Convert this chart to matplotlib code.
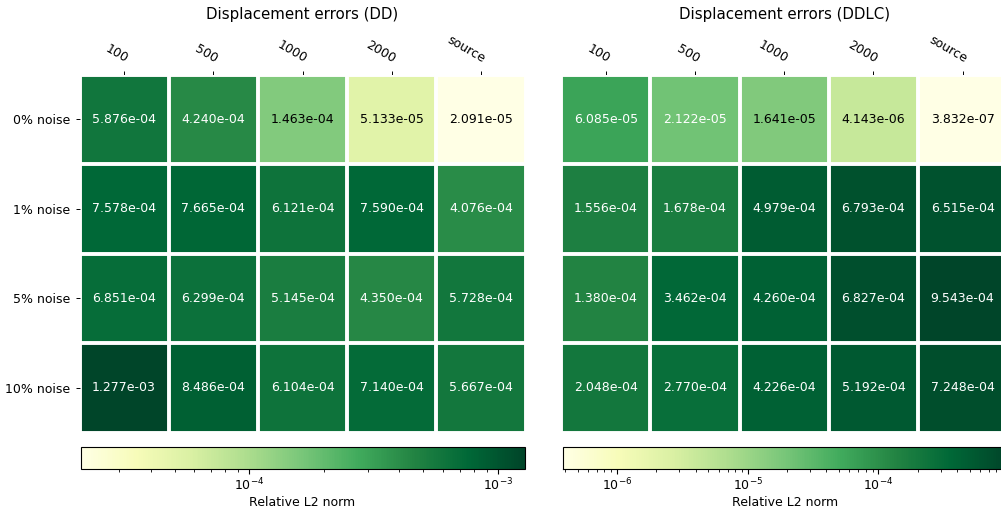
import matplotlib
matplotlib.use("Agg")
import matplotlib.pyplot as plt
import numpy as np
from matplotlib.colors import LogNorm

ROW_LABELS = ["0% noise", "1% noise", "5% noise", "10% noise"]
COL_LABELS = ["100", "500", "1000", "2000", "source"]

DD_ERRORS = [
    [5.876e-04, 4.240e-04, 1.463e-04, 5.133e-05, 2.091e-05],
    [7.578e-04, 7.665e-04, 6.121e-04, 7.590e-04, 4.076e-04],
    [6.851e-04, 6.299e-04, 5.145e-04, 4.350e-04, 5.728e-04],
    [1.277e-03, 8.486e-04, 6.104e-04, 7.140e-04, 5.667e-04],
]
DDLC_ERRORS = [
    [6.085e-05, 2.122e-05, 1.641e-05, 4.143e-06, 3.832e-07],
    [1.556e-04, 1.678e-04, 4.979e-04, 6.793e-04, 6.515e-04],
    [1.380e-04, 3.462e-04, 4.260e-04, 6.827e-04, 9.543e-04],
    [2.048e-04, 2.770e-04, 4.226e-04, 5.192e-04, 7.248e-04],
]
TITLES = ["Displacement errors (DD)", "Displacement errors (DDLC)"]

W_PX, H_PX = 1001, 513
FS = 9.0
TITLE_FS = 10.8


def px_rect(x0, y0, x1, y1):
    # pixel box (top-left origin) -> figure fraction rect
    return [x0 / W_PX, 1 - y1 / H_PX, (x1 - x0) / W_PX, (y1 - y0) / H_PX]


def heatmap(fig, data, title, ax_box, cb_box, show_rows):
    data = np.asarray(data)
    ax = fig.add_axes(px_rect(*ax_box))
    norm = LogNorm(vmin=data.min(), vmax=data.max())
    im = ax.imshow(data, cmap="YlGn", norm=norm, aspect="auto")

    ax.set_xticks(np.arange(data.shape[1]), labels=COL_LABELS)
    if show_rows:
        ax.set_yticks(np.arange(data.shape[0]), labels=ROW_LABELS)
    else:
        ax.set_yticks([])
    ax.tick_params(top=True, bottom=False, labeltop=True, labelbottom=False,
                   labelsize=FS, length=3.2, width=0.7)
    plt.setp(ax.get_xticklabels(), rotation=-30, ha="right", rotation_mode="anchor")

    ax.spines[:].set_visible(False)
    ax.set_xticks(np.arange(data.shape[1] + 1) - 0.5, minor=True)
    ax.set_yticks(np.arange(data.shape[0] + 1) - 0.5, minor=True)
    ax.grid(which="minor", color="w", linestyle="-", linewidth=2.8)
    ax.tick_params(which="minor", top=False, bottom=False, left=False)

    threshold = im.norm(data.max()) / 2.0
    for i in range(data.shape[0]):
        for j in range(data.shape[1]):
            color = "white" if im.norm(data[i, j]) > threshold else "black"
            ax.text(j, i, f"{data[i, j]:.3e}", ha="center", va="center",
                    color=color, fontsize=FS)

    cax = fig.add_axes(px_rect(*cb_box))
    cbar = fig.colorbar(im, cax=cax, orientation="horizontal")
    cbar.set_label("Relative L2 norm", fontsize=FS, labelpad=2)
    cbar.ax.tick_params(labelsize=FS, pad=2)

    x_mid = (ax_box[0] + ax_box[2]) / 2.0
    fig.text(x_mid / W_PX, 1 - 15 / H_PX, title, ha="center", va="center", fontsize=TITLE_FS)
    return ax


def main():
    fig = plt.figure(figsize=(W_PX / 100, H_PX / 100), dpi=100)
    heatmap(fig, DD_ERRORS, TITLES[0], (79.5, 74.5, 525.5, 432.5),
            (80.5, 447.3, 524.5, 469.3), True)
    heatmap(fig, DDLC_ERRORS, TITLES[1], (561.2, 74.5, 1007.2, 432.5),
            (562.7, 447.3, 1006.5, 469.3), False)
    fig.savefig("out.png", dpi=100)
    plt.close(fig)


if __name__ == "__main__":
    main()
